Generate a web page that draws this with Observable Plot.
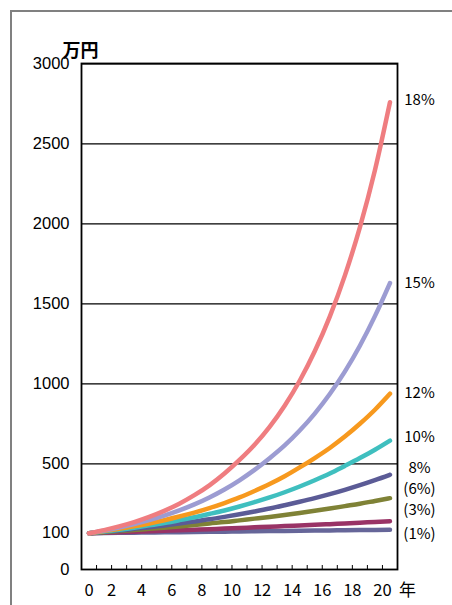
<!DOCTYPE html>
<html><head><meta charset="utf-8">
<script src="https://cdn.jsdelivr.net/npm/d3@7"></script>
<script src="https://cdn.jsdelivr.net/npm/@observablehq/plot@0.6"></script>
<style>
body{margin:0;background:#fff;}
#wrap{position:relative;width:452px;height:605px;overflow:hidden;background:#fff;}
#frame{position:absolute;left:10px;top:10px;width:460px;height:610px;border-left:2px solid #808080;border-top:2px solid #808080;pointer-events:none;}
#chart{position:absolute;left:0;top:0;}
</style></head><body>
<div id="wrap"><div id="chart"></div><div id="frame"></div></div>
<script>
const years = [0,1,2,3,4,5,6,7,8,9,10,11,12,13,14,15,16,17,18,19,20];
const seriesNames = ["18%","15%","12%","10%","8%","(6%)","(3%)","(1%)"];
const seriesColors = ["#ef7d80","#9c9cd2","#f7991e","#3fbfbf","#5b5b96","#7f8236","#993366","#666699"];
const s18 = [100,118,139,164,194,229,270,319,376,444,524,619,731,863,1019,1203,1420,1676,1978,2335,2760];
const s15 = [100,115,132,152,175,201,231,266,306,352,405,465,535,615,708,814,936,1076,1238,1423,1630];
const s12 = [100,112,125,140,156,175,196,219,245,274,306,343,383,428,479,536,599,670,750,838,938];
const s10 = [100,110,120,132,145,159,175,192,211,231,254,279,306,336,369,405,444,488,536,588,645];
const s8  = [100,108,116,125,134,145,156,168,180,194,209,225,242,261,281,302,325,350,377,406,437];
const s6  = [100,106,112,118,125,132,139,147,156,164,174,184,194,205,217,229,242,256,270,286,302];
const s3  = [100,103,105,108,111,114,117,120,123,127,130,134,137,141,144,148,152,156,160,165,169];
const s1  = [100,101,102,103,104,105,106,107,108,109,110,111,112,113,114,115,116,117,118,119,120];
const seriesValues = [s18,s15,s12,s10,s8,s6,s3,s1];
const labelAt = [2770,1627,940,665,473,352,231,98];
const yTicks = [0,100,500,1000,1500,2000,2500,3000];
const gridValues = [500,1000,1500,2000,2500,3000];
const xTickLabels = [0,2,4,6,8,10,12,14,16,18,20];
const xUnit = "年";
const yUnit = "万円";

const rows = [];
seriesNames.forEach((name, i) => years.forEach((yr, j) => rows.push({name, year: yr, value: seriesValues[i][j]})));
const drawOrder = seriesNames.slice().reverse();
const orderedRows = drawOrder.flatMap(n => rows.filter(r => r.name === n));
const labels = seriesNames.map((name, i) => ({name, at: labelAt[i]}));
const tickBounds = years.slice(1).map(y => y - 0.5);

const cjk = "'Noto Sans CJK JP', sans-serif";
const plot = Plot.plot({
  width: 452, height: 605,
  marginLeft: 81, marginRight: 55, marginTop: 63, marginBottom: 36,
  style: {fontFamily: "'Liberation Sans', Arial, sans-serif", fontSize: "16px", background: "transparent"},
  x: {domain: [-0.5, 20.5], axis: null},
  y: {type: "linear", domain: [0,100,500,3000], range: [569,532.7,463.3,63.3], axis: null},
  color: {domain: seriesNames, range: seriesColors},
  marks: [
    Plot.ruleY(gridValues, {y: d => d, stroke: "#000", strokeWidth: 1.3}),
    Plot.ruleX(tickBounds, {x: d => d, y1: 0, y2: 11, stroke: "#000", strokeWidth: 1}),
    Plot.frame({stroke: "#000", strokeWidth: 1.8}),
    Plot.axisY(yTicks, {tickSize: 0, tickPadding: 12, fontSize: 16.5, label: null, fill: "#000", tickFormat: d => String(d)}),
    Plot.line(orderedRows, {x: "year", y: "value", z: "name", stroke: "name", strokeWidth: 4.5, curve: "monotone-x", strokeLinecap: "round"}),
    Plot.text(labels, {y: "at", text: "name", frameAnchor: "right", dx: 22, textAnchor: "middle", fontSize: 15, fontFamily: cjk, fill: "#000"}),
    Plot.text(xTickLabels, {x: d => d === 0 ? 0 : d - 0.5, text: d => String(d), frameAnchor: "bottom", dy: 26, fontSize: 16.5, fontFamily: cjk, fill: "#000"}),
    Plot.text([xUnit], {text: d => d, frameAnchor: "bottom-right", dx: 10, dy: 26, textAnchor: "middle", fontSize: 17, fontFamily: cjk, fill: "#000"}),
    Plot.text([yUnit], {text: d => d, frameAnchor: "top-left", dx: -1, dy: -19, textAnchor: "middle", fontSize: 18, fontWeight: "bold", fontFamily: cjk, fill: "#000"})
  ]
});
document.getElementById("chart").appendChild(plot);
</script>
</body></html>
